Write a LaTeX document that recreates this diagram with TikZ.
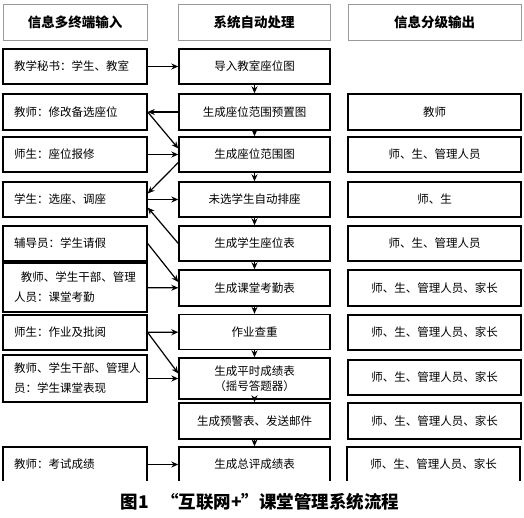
\documentclass[tikz,border=0pt]{standalone}
\usepackage{fontspec}
\setmainfont{Noto Sans CJK SC}
\usetikzlibrary{arrows.meta}

\begin{document}
\begin{tikzpicture}[x=1pt, y=-1pt,
    headbox/.style={draw=black!40, line width=0.8pt, minimum height=36pt, inner sep=0pt, font=\fontsize{13.5}{16}\selectfont\bfseries},
    box/.style={draw, line width=1.4pt, minimum height=35pt, inner sep=0pt, font=\fontsize{11.5}{20}\selectfont},
    inbox/.style={box, text width=122pt, inner xsep=11pt, align=left},
    procbox/.style={box, minimum width=151pt, align=center},
    outbox/.style={box, minimum width=173pt, align=center},
    arr/.style={-{Stealth[length=7pt, width=6pt]}, line width=1.2pt}
]
\path[use as bounding box, fill=white] (0,0) rectangle (524,518);

\node[headbox, minimum width=144pt] (hin) at (75,22) {信息多终端输入};
\node[headbox, minimum width=152pt] (hproc) at (254,22) {系统自动处理};
\node[headbox, minimum width=173pt] (hout) at (434.5,22) {信息分级输出};

\node[inbox] (in1) at (75,66.5) {教学秘书：学生、教室};
\node[inbox, minimum height=36pt] (in2) at (75,112) {教师：修改备选座位};
\node[inbox] (in3) at (75,154.5) {师生：座位报修};
\node[inbox] (in4) at (75,199.5) {学生：选座、调座};
\node[inbox] (in5) at (75,243.5) {辅导员：学生请假};
\node[inbox, minimum height=49pt] (in6) at (75,287.5) {\hspace*{0.6em}教师、学生干部、管理\\人员：课堂考勤};
\node[inbox] (in7) at (75,332.5) {师生：作业及批阅};
\node[inbox, minimum height=47pt] (in8) at (75,378.5) {教师、学生干部、管理人\\员：学生课堂表现};

\node[procbox] (p1) at (254.5,66.5) {导入教室座位图};
\node[procbox, minimum height=36pt] (p2) at (254.5,112) {生成座位范围预置图};
\node[procbox] (p3) at (254.5,154.5) {生成座位范围图};
\node[procbox] (p4) at (254.5,199.5) {未选学生自动排座};
\node[procbox] (p5) at (254.5,243.5) {生成学生座位表};
\node[procbox, minimum height=36pt] (p6) at (254.5,288) {生成课堂考勤表};
\node[procbox] (p7) at (254.5,332) {作业查重};
\node[procbox, minimum height=41pt, font=\fontsize{11.5}{15}\selectfont] (p8) at (254.5,378.5) {生成平时成绩表\\（摇号答题器）};
\node[procbox, minimum height=36pt] (p9) at (254.5,421) {生成预警表、发送邮件};

\node[outbox, minimum height=36pt] (out2) at (434.5,112) {教师};
\node[outbox] (out3) at (434.5,154.5) {师、生、管理人员};
\node[outbox] (out4) at (434.5,199.5) {师、生};
\node[outbox] (out5) at (434.5,243.5) {师、生、管理人员};
\node[outbox, minimum height=36pt] (out6) at (434.5,288) {师、生、管理人员、家长};
\node[outbox] (out7) at (434.5,332.5) {师、生、管理人员、家长};
\node[outbox] (out8) at (434.5,377.5) {师、生、管理人员、家长};
\node[outbox, minimum height=36pt] (out9) at (434.5,421) {师、生、管理人员、家长};

\begin{scope}
\clip (0,0) rectangle (524,480.5);
\node[inbox] (in10) at (75,464.5) {教师：考试成绩};
\node[procbox] (p10) at (254.5,464.5) {生成总评成绩表};
\node[outbox] (out10) at (433.5,464.5) {师、生、管理人员、家长};
\end{scope}

\foreach \a/\b in {p1/p2, p2/p3, p3/p4, p4/p5, p5/p6, p6/p7, p7/p8, p8/p9, p9/p10}
    \draw[arr] (\a) -- (\b);

\draw[arr] (in1) -- (p1);
\draw[arr] (p2) -- (in2);
\draw[arr] (in2.east) -- ([yshift=6pt]p3.west);
\draw[arr] (in3) -- (p3);
\draw[arr] ([yshift=-8pt]p3.west) -- ([yshift=6pt]in4.east);
\draw[arr] (in4) -- (p4);
\draw[arr] (p5.west) -- ([yshift=-8pt]in4.east);
\draw[arr] (in5.east) -- ([yshift=6pt]p6.west);
\draw[arr] (in6) -- (p6);
\draw[arr] (in7) -- (p7);
\draw[arr] (in7.east) -- ([yshift=5pt]p8.west);
\draw[arr] (in8) -- (p8);
\draw[arr] (in10) -- (p10);

\node[font=\fontsize{17.5}{20}\selectfont\bfseries] (cap) at (260,502) {图1\hspace{0.7em}“互联网+”课堂管理系统流程};
\end{tikzpicture}
\end{document}
